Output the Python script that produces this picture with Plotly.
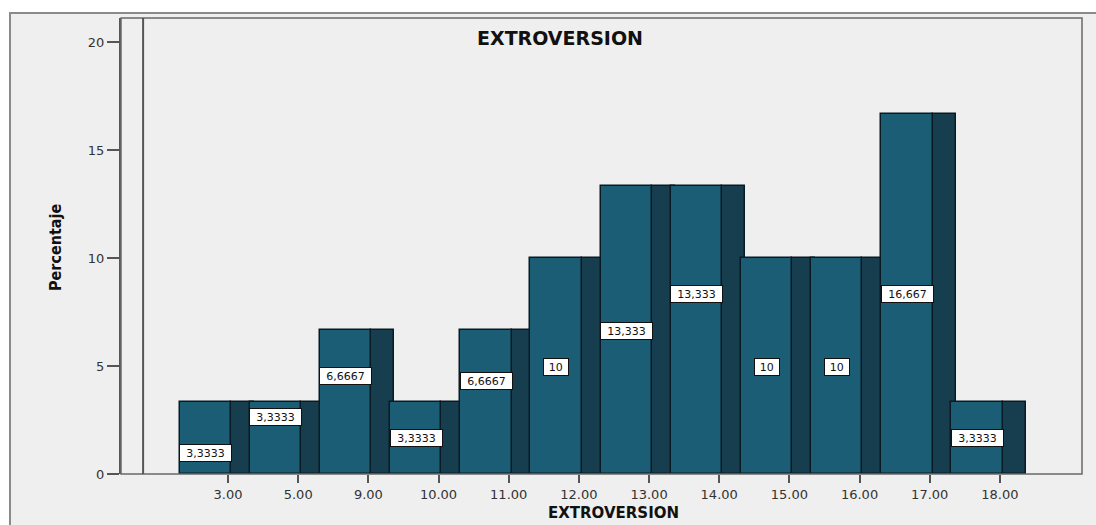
import plotly.graph_objects as go

# Extroversion score categories and their percentage of cases
categories = ["3.00", "5.00", "9.00", "10.00", "11.00", "12.00",
              "13.00", "14.00", "15.00", "16.00", "17.00", "18.00"]
percentages = [3.3333, 3.3333, 6.6667, 3.3333, 6.6667, 10.0,
               13.333, 13.333, 10.0, 10.0, 16.667, 3.3333]
y_ticks = [0, 5, 10, 15, 20]

# heights at which each value label sits inside its bar
label_heights = [0.97, 2.64, 4.54, 1.67, 4.31, 4.95,
                 6.62, 8.33, 4.95, 4.95, 8.33, 1.67]

FRONT = "#1c5d76"
SIDE = "#163e4e"
EDGE = "#0a1a22"
BG = "#efefef"

W, H = 1096, 525
L, R, T, B = 121, 14, 18, 51
PW, PH = W - L - R, H - T - B

def px_x(p):
    return (p - L) / PW

def px_y(p):
    return (H - B - p) / PH

idx = list(range(len(categories)))

fig = go.Figure()

# dark side faces first, so each following front face overlaps them
fig.add_trace(go.Bar(
    x=idx, y=percentages, base=0, width=0.33, offset=0.04,
    marker=dict(color=SIDE, line=dict(color=EDGE, width=1.5)),
    hoverinfo="skip", showlegend=False,
))
fig.add_trace(go.Bar(
    x=idx, y=percentages, base=0, width=0.73, offset=-0.69,
    marker=dict(color=FRONT, line=dict(color=EDGE, width=1.5)),
    hovertemplate="%{y}<extra></extra>", showlegend=False,
))

def fmt(v):
    return f"{v:.5g}".replace(".", ",")

annotations = []
for i, (v, h) in enumerate(zip(percentages, label_heights)):
    txt = fmt(v)
    annotations.append(dict(
        x=i - 0.32, y=h, xref="x", yref="y", text=txt, showarrow=False,
        font=dict(family="DejaVu Sans", size=11, color="#111"),
        bgcolor="white", bordercolor="#111", borderwidth=1, borderpad=1,
        width=6.8 * len(txt) + 8, height=14, align="center",
        xanchor="center", yanchor="middle",
    ))

# chart title inside the frame
annotations.append(dict(
    x=px_x(560), y=px_y(38), xref="paper", yref="paper",
    text="<b>EXTROVERSION</b>", showarrow=False,
    font=dict(family="DejaVu Sans", size=19, color="#111"),
    xanchor="center", yanchor="middle",
))
# axis titles
annotations.append(dict(
    x=px_x(613), y=px_y(513), xref="paper", yref="paper",
    text="<b>EXTROVERSION</b>", showarrow=False,
    font=dict(family="DejaVu Sans", size=15, color="#111"),
    xanchor="center", yanchor="middle",
))
annotations.append(dict(
    x=px_x(55), y=px_y(248), xref="paper", yref="paper",
    text="<b>Percentaje</b>", showarrow=False, textangle=-90,
    font=dict(family="Liberation Sans Narrow, DejaVu Sans Condensed, Liberation Sans", size=16, color="#111"),
    xanchor="center", yanchor="middle",
))

shapes = [
    # outer chart frame
    dict(type="rect", xref="paper", yref="paper", layer="below",
         x0=px_x(10), x1=px_x(1110), y0=px_y(540), y1=px_y(13),
         fillcolor=BG, line=dict(color="#8a8a8a", width=2)),
    # plot frame
    dict(type="rect", xref="paper", yref="paper", layer="above",
         x0=0, x1=1, y0=0, y1=1, line=dict(color="#6a6a6a", width=1.5)),
    # back-wall edge line
    dict(type="line", xref="x", yref="paper", layer="above",
         x0=-1.21, x1=-1.21, y0=0, y1=1, line=dict(color="#555", width=2)),
]

fig.update_layout(
    width=W, height=H,
    margin=dict(l=L, r=R, t=T, b=B),
    paper_bgcolor="white", plot_bgcolor=BG,
    barmode="overlay", bargap=0,
    annotations=annotations, shapes=shapes,
    xaxis=dict(
        range=[-1.525, 12.17], tickvals=idx, ticktext=categories,
        ticks="outside", ticklen=8, tickwidth=2, tickcolor="#555",
        showgrid=False, zeroline=False, showline=False,
        tickfont=dict(family="DejaVu Sans", size=13, color="#333"),
        fixedrange=True,
    ),
    yaxis=dict(
        range=[0, 21.11], tickvals=y_ticks,
        ticks="outside", ticklen=12, tickwidth=2, tickcolor="#555",
        showgrid=False, zeroline=False,
        showline=True, linecolor="#555", linewidth=2,
        tickfont=dict(family="DejaVu Sans", size=13, color="#333"),
        fixedrange=True,
    ),
)

fig.write_html("out.html")
